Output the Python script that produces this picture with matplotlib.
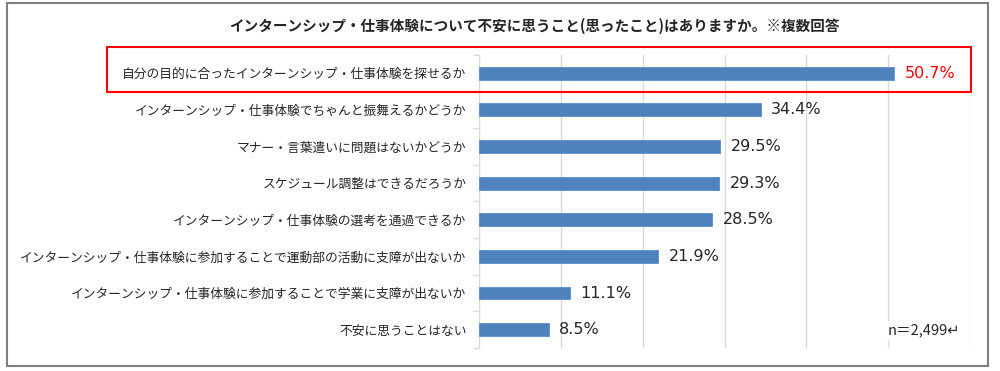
import matplotlib
matplotlib.use("Agg")
import matplotlib.pyplot as plt
from matplotlib.patches import Rectangle
import numpy as np

plt.rcParams['font.family'] = ['Noto Sans CJK JP', 'DejaVu Sans']

title = 'インターンシップ・仕事体験について不安に思うこと(思ったこと)はありますか。※複数回答'
categories = [
    '自分の目的に合ったインターンシップ・仕事体験を探せるか',
    'インターンシップ・仕事体験でちゃんと振舞えるかどうか',
    'マナー・言葉遣いに問題はないかどうか',
    'スケジュール調整はできるだろうか',
    'インターンシップ・仕事体験の選考を通過できるか',
    'インターンシップ・仕事体験に参加することで運動部の活動に支障が出ないか',
    'インターンシップ・仕事体験に参加することで学業に支障が出ないか',
    '不安に思うことはない',
]
values = [50.7, 34.4, 29.5, 29.3, 28.5, 21.9, 11.1, 8.5]
note = 'n＝2,499↵'

fig = plt.figure(figsize=(10, 3.71), dpi=100)
ax = fig.add_axes([0.479, 0.062, 0.491, 0.790])

y = np.arange(len(categories))
ax.barh(y, values, height=0.35, color='#4F81BD', edgecolor='#5B8FCC', linewidth=0.6, zorder=3)
ax.set_xlim(0, 60)
ax.set_ylim(len(categories) - 0.5, -0.5)
ax.set_xticks(np.arange(0, 61, 10))
ax.grid(axis='x', color='#D9D9D9', linewidth=1, zorder=0)
ax.tick_params(axis='x', length=0, labelbottom=False)

ax.set_yticks(y)
ax.set_yticklabels(categories, fontsize=9.2, color='#262626')
ax.tick_params(axis='y', length=0, pad=9)
ax.set_yticks(np.arange(-0.5, len(categories)), minor=True)
ax.tick_params(axis='y', which='minor', length=4, color='#D9D9D9', width=1)

for s in ['top', 'right', 'bottom']:
    ax.spines[s].set_visible(False)
ax.spines['left'].set_color('#D9D9D9')

for i, v in enumerate(values):
    ax.text(v + 1.3, i, f'{v}%', va='center', ha='left', fontsize=11.5,
            family=['DejaVu Sans', 'Noto Sans CJK JP'],
            color='#FF0000' if i == 0 else '#262626')

# sample size note sits on a white box, hiding the gridline behind it
ax.text(0.98, 0.06, note, transform=ax.transAxes, ha='right', va='center',
        fontsize=10.5, color='#262626', zorder=4,
        bbox=dict(facecolor='white', edgecolor='none', pad=2))

fig.text(0.534, 0.93, title, ha='center', va='center', fontsize=10.5,
         fontweight='bold', color='#262626')

fig.patches.append(Rectangle((0.107, 0.752), 0.864, 0.122, transform=fig.transFigure,
                             fill=False, edgecolor='#FF0000', linewidth=1.5))
fig.patches.append(Rectangle((0.007, 0.013), 0.981, 0.978, transform=fig.transFigure,
                             fill=False, edgecolor='#7F7F7F', linewidth=1.5))

fig.savefig('out.png', dpi=100)
